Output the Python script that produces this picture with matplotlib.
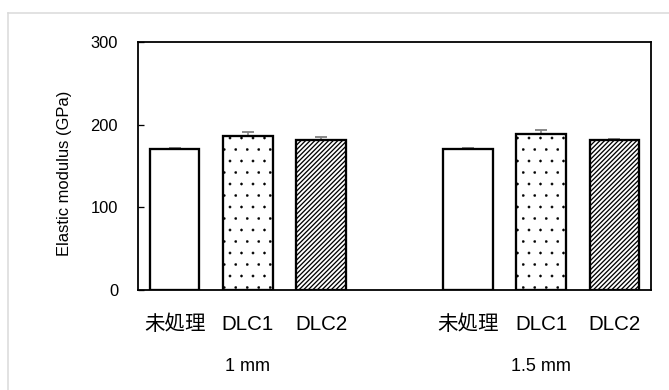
import matplotlib
matplotlib.use('Agg')
import numpy as np
import matplotlib.pyplot as plt
from matplotlib.lines import Line2D

# data
groups = ['1 mm', '1.5 mm']
treatments = ['未処理', 'DLC1', 'DLC2']
modulus_1mm = [171, 186, 182]
modulus_15mm = [170, 189, 181]
err_1mm = [1.2, 5, 3]
err_15mm = [1.5, 4, 2]
hatches = ['', '.', '/////']
hatch_lw = [1.0, 0.3, 1.3]

DPI = 69
W, H = 669, 390


def px(v):
    # pixels -> points at this dpi
    return v * 72.0 / DPI


plt.rcParams['font.family'] = ['Liberation Sans', 'Noto Sans CJK JP', 'DejaVu Sans']
plt.rcParams['hatch.color'] = 'black'

fig = plt.figure(figsize=(W / DPI, H / DPI), dpi=DPI)
ax = fig.add_axes([138 / W, 1 - 290 / H, (651 - 138) / W, (290 - 42) / H])

# outer chart-area frame (light grey)
fig.add_artist(Line2D([8 / W, 1.0], [1 - 13 / H, 1 - 13 / H], transform=fig.transFigure,
                      color='#d9d9d9', lw=px(1.5)))
fig.add_artist(Line2D([8 / W, 8 / W], [0.0, 1 - 13 / H], transform=fig.transFigure,
                      color='#d9d9d9', lw=px(1.5)))

values = [modulus_1mm, modulus_15mm]
errors = [err_1mm, err_15mm]
xticks = []
xlabels = []
for g, grp in enumerate(groups):
    for t, name in enumerate(treatments):
        x = g * 4 + t
        xticks.append(x)
        xlabels.append(name)
        ax.errorbar(x, values[g][t], yerr=errors[g][t], fmt='none', ecolor='#7f7f7f',
                    elinewidth=px(1.5), capsize=px(6), capthick=px(1.8), zorder=1)
        with plt.rc_context({'hatch.linewidth': px(hatch_lw[t])}):
            ax.bar(x, values[g][t], width=0.675, facecolor='white', edgecolor='black',
                   linewidth=px(2.3), hatch=hatches[t], zorder=2)
    ax.annotate(grp, xy=(g * 4 + 1, -0.31), xycoords=('data', 'axes fraction'),
                ha='center', va='center', fontsize=px(18))

ax.set_xlim(-0.5, 6.5)
ax.set_ylim(0, 300)
ax.set_yticks([0, 100, 200, 300])
ax.set_xticks(xticks)
ax.set_xticklabels(xlabels)
ax.tick_params(axis='y', direction='in', length=px(6), width=px(1.3), pad=px(20),
               labelsize=px(16.5))
ax.tick_params(axis='x', length=0, pad=px(25), labelsize=px(20.5))
for s in ax.spines.values():
    s.set_linewidth(px(1.8))
    s.set_color('black')
ax.set_ylabel('Elastic modulus (GPa)', fontsize=px(16.5))
ax.yaxis.set_label_coords(-0.128, 0.47)

fig.savefig('out.png', dpi=DPI)
